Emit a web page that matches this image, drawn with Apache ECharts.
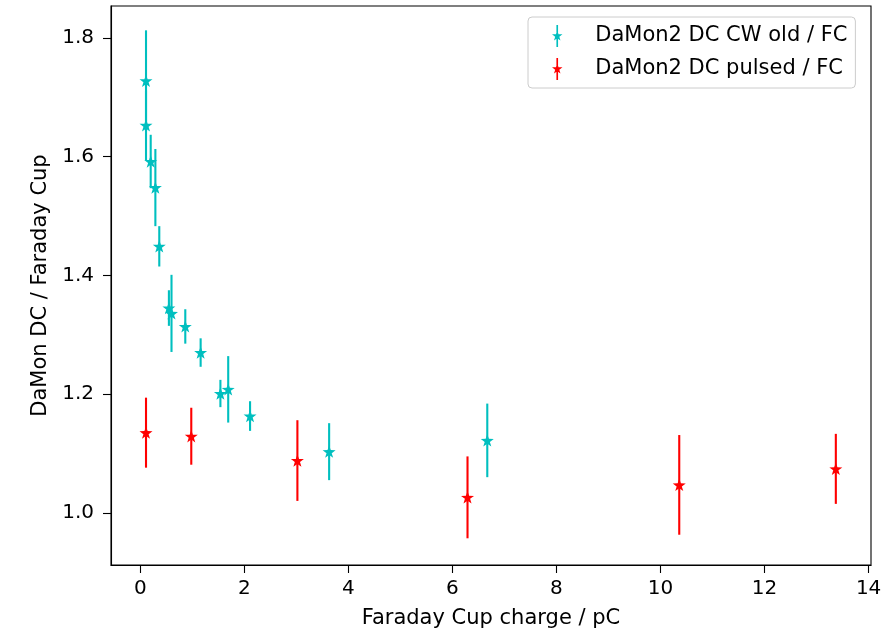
<!DOCTYPE html>
<html>
<head>
<meta charset="utf-8">
<script src="https://cdn.jsdelivr.net/npm/echarts@6/dist/echarts.min.js"></script>
<style>html,body{margin:0;padding:0;background:#fff;}#c{width:885px;height:631px;}</style>
</head>
<body>
<div id="c"></div>
<script>
// Data
const cwX   = [0.11, 0.11, 0.20, 0.29, 0.365, 0.55, 0.60, 0.865, 1.16, 1.54, 1.69, 2.11, 3.63, 6.67];
const cwY   = [1.728, 1.653, 1.592, 1.548, 1.449, 1.345, 1.336, 1.314, 1.270, 1.201, 1.208, 1.163, 1.103, 1.122];
const cwErr = [0.085, 0.059, 0.045, 0.065, 0.034, 0.030, 0.065, 0.029, 0.024, 0.023, 0.056, 0.025, 0.048, 0.062];

const puX   = [0.11, 0.98, 3.02, 6.29, 10.36, 13.37];
const puY   = [1.135, 1.129, 1.088, 1.026, 1.047, 1.074];
const puErr = [0.059, 0.048, 0.068, 0.069, 0.084, 0.059];

const xTicks = [0, 2, 4, 6, 8, 10, 12, 14];
const yTicks = [1.0, 1.2, 1.4, 1.6, 1.8];

const seriesNames = ['DaMon2 DC CW old / FC', 'DaMon2 DC pulsed / FC'];
const xName = 'Faraday Cup charge / pC';
const yName = 'DaMon DC / Faraday Cup';

const CYAN = '#00BFBF';
const RED = '#FF0000';
const FONT = 'DejaVu Sans';

const STAR = 'path://M5,0 L6.18,3.38 L9.76,3.45 L6.9,5.62 L7.94,9.05 L5,7 L2.06,9.05 L3.1,5.62 L0.24,3.45 L3.82,3.38 Z';
const LEG_ICON = 'path://M4.25,0 L5.75,0 L5.75,20 L4.25,20 Z M5,4.8 L6.18,8.3 L9.76,8.4 L6.9,10.62 L7.94,14.2 L5,12.1 L2.06,14.2 L3.1,10.62 L0.24,8.4 L3.82,8.3 Z';

function zip3(a, b, c) { return a.map((v, i) => [v, b[i], c[i]]); }
function zip2(a, b) { return a.map((v, i) => [v, b[i]]); }

function errSeries(data, color) {
  return {
    type: 'custom',
    data: data,
    silent: true,
    encode: { x: 0, y: 1 },
    renderItem: function (params, api) {
      const x = api.value(0), y = api.value(1), e = api.value(2);
      const p1 = api.coord([x, y - e]);
      const p2 = api.coord([x, y + e]);
      return {
        type: 'line',
        shape: { x1: p1[0], y1: p1[1], x2: p2[0], y2: p2[1] },
        style: { stroke: color, lineWidth: 2.1 }
      };
    }
  };
}

const chart = echarts.init(document.getElementById('c'), null, { renderer: 'canvas' });
chart.setOption({
  animation: false,
  backgroundColor: '#fff',
  textStyle: { fontFamily: FONT },
  grid: { left: 111, right: 14, top: 6, bottom: 66, show: true, borderColor: '#000', borderWidth: 1.1, containLabel: false, outerBoundsMode: 'none' },
  legend: {
    orient: 'vertical',
    left: 528,
    top: 17,
    itemWidth: 14,
    itemHeight: 22,
    itemGap: 11,
    padding: [8, 8, 8, 24],
    backgroundColor: 'rgba(255,255,255,0.8)',
    borderColor: '#cccccc',
    borderWidth: 1,
    borderRadius: 4,
    textStyle: { fontFamily: FONT, fontSize: 21, color: '#000', padding: [0, 0, 0, 26] },
    data: [
      { name: seriesNames[0], icon: LEG_ICON },
      { name: seriesNames[1], icon: LEG_ICON }
    ]
  },
  xAxis: {
    type: 'value',
    min: -0.563,
    max: 14.046,
    name: xName,
    nameLocation: 'middle',
    nameGap: 43,
    nameTextStyle: { fontFamily: FONT, fontSize: 21, color: '#000' },
    splitLine: { show: false },
    axisLine: { show: true, onZero: false, lineStyle: { color: '#000', width: 1.1 } },
    axisTick: { show: true, length: 8, lineStyle: { color: '#000', width: 1.1 }, customValues: xTicks },
    axisLabel: { fontFamily: FONT, fontSize: 20, color: '#000', margin: 14, customValues: xTicks, formatter: v => String(v) }
  },
  yAxis: {
    type: 'value',
    min: 0.912,
    max: 1.854,
    name: yName,
    nameLocation: 'middle',
    nameGap: 59,
    nameTextStyle: { fontFamily: FONT, fontSize: 21, color: '#000' },
    splitLine: { show: false },
    axisLine: { show: true, onZero: false, lineStyle: { color: '#000', width: 1.1 } },
    axisTick: { show: true, length: 8, lineStyle: { color: '#000', width: 1.1 }, customValues: yTicks },
    axisLabel: { fontFamily: FONT, fontSize: 20, color: '#000', margin: 17, customValues: yTicks, formatter: v => v.toFixed(1) }
  },
  series: [
    errSeries(zip3(cwX, cwY, cwErr), CYAN),
    {
      name: seriesNames[0],
      type: 'scatter',
      data: zip2(cwX, cwY),
      symbol: STAR,
      symbolSize: 13,
      symbolKeepAspect: true,
      itemStyle: { color: CYAN, opacity: 1 },
      emphasis: { disabled: true }
    },
    errSeries(zip3(puX, puY, puErr), RED),
    {
      name: seriesNames[1],
      type: 'scatter',
      data: zip2(puX, puY),
      symbol: STAR,
      symbolSize: 13,
      symbolKeepAspect: true,
      itemStyle: { color: RED, opacity: 1 },
      emphasis: { disabled: true }
    }
  ]
});
</script>
</body>
</html>
